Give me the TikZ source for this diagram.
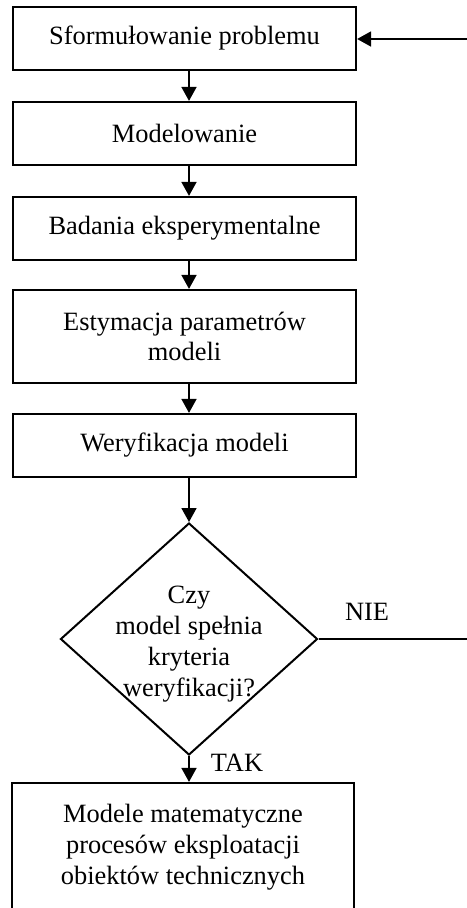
\documentclass[tikz,border=0pt]{standalone}
\usepackage{fontspec}
\setmainfont{Liberation Serif}
\usetikzlibrary{shapes.geometric,arrows.meta}
\begin{document}
\begin{tikzpicture}[x=1bp,y=-1bp,
  every node/.style={font=\fontsize{26.5}{31}\selectfont},
  stepbox/.style={draw,line width=2.2bp,rectangle,minimum width=343bp,inner sep=0pt,align=center},
  conn/.style={line width=1.7bp,-{Triangle[length=14bp,width=15bp]}},
  plain/.style={line width=1.7bp}]
\useasboundingbox (0,0) rectangle (467,908);
\node[stepbox,minimum height=63bp] (b1) at (184.5,38.5) {Sformułowanie problemu};
\node[stepbox,minimum height=63bp] (b2) at (184.5,133.5) {Modelowanie};
\node[stepbox,minimum height=63bp] (b3) at (184.5,228.5) {Badania eksperymentalne};
\node[stepbox,minimum height=93bp] (b4) at (184.5,336.5) {Estymacja parametrów\\modeli};
\node[stepbox,minimum height=63bp] (b5) at (184.5,445.5) {Weryfikacja modeli};
\node[draw,line width=2bp,diamond,minimum width=257bp,minimum height=232bp,inner sep=0pt] (d) at (189,639) {};
\node[align=center,inner sep=0pt] (dt) at (189,644) {Czy\\model spełnia\\kryteria\\weryfikacji?};
\node[stepbox,minimum width=342bp,minimum height=128bp] (b6) at (183,847) {Modele matematyczne\\procesów eksploatacji\\obiektów technicznych};
\coordinate (inR) at (467,39);
\coordinate (outR) at (467,639);
\node[inner sep=0pt] (nie) at (367,612) {NIE};
\node[inner sep=0pt] (tak) at (237,763) {TAK};
\draw[conn] (inR) -- (inR -| b1.east);
\draw[conn] (b1.south -| d.north) -- (b2.north -| d.north);
\draw[conn] (b2.south -| d.north) -- (b3.north -| d.north);
\draw[conn] (b3.south -| d.north) -- (b4.north -| d.north);
\draw[conn] (b4.south -| d.north) -- (b5.north -| d.north);
\draw[conn] (b5.south -| d.north) -- (d.north);
\draw[conn] (d.south) -- (b6.north -| d.south);
\draw[plain] (d.east) -- (outR);
\end{tikzpicture}
\end{document}
